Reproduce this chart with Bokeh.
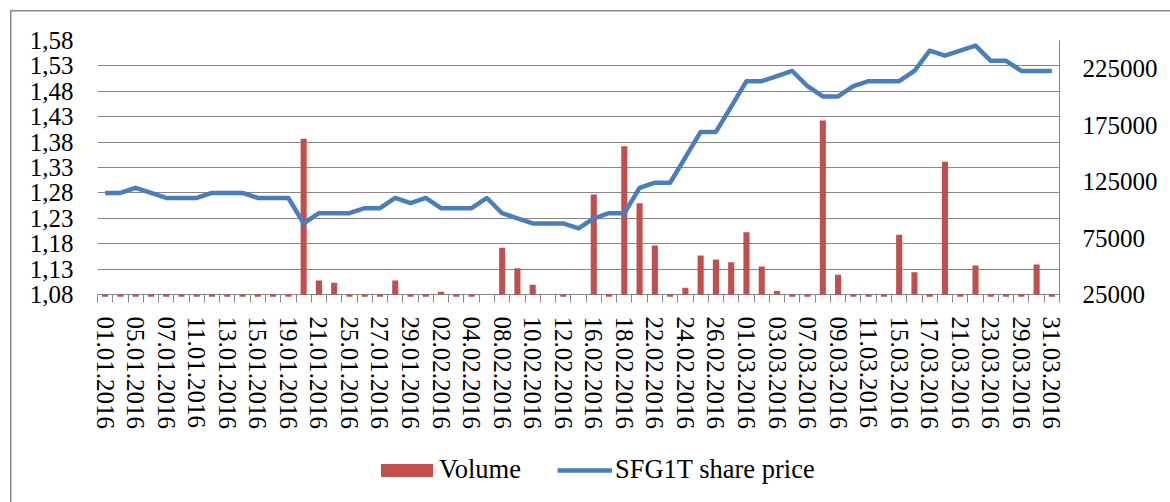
import numpy as np
from bokeh.plotting import figure
from bokeh.layouts import column
from bokeh.models import (Range1d, LinearAxis, FixedTicker, CustomJSTickFormatter,
                          Legend, LegendItem)
from bokeh.embed import file_html
from bokeh.resources import INLINE

dates = [
    "01.01.2016", "04.01.2016", "05.01.2016", "06.01.2016", "07.01.2016", "08.01.2016",
    "11.01.2016", "12.01.2016", "13.01.2016", "14.01.2016", "15.01.2016", "18.01.2016",
    "19.01.2016", "20.01.2016", "21.01.2016", "22.01.2016", "25.01.2016", "26.01.2016",
    "27.01.2016", "28.01.2016", "29.01.2016", "01.02.2016", "02.02.2016", "03.02.2016",
    "04.02.2016", "05.02.2016", "08.02.2016", "09.02.2016", "10.02.2016", "11.02.2016",
    "12.02.2016", "15.02.2016", "16.02.2016", "17.02.2016", "18.02.2016", "19.02.2016",
    "22.02.2016", "23.02.2016", "24.02.2016", "25.02.2016", "26.02.2016", "29.02.2016",
    "01.03.2016", "02.03.2016", "03.03.2016", "04.03.2016", "07.03.2016", "08.03.2016",
    "09.03.2016", "10.03.2016", "11.03.2016", "14.03.2016", "15.03.2016", "16.03.2016",
    "17.03.2016", "18.03.2016", "21.03.2016", "22.03.2016", "23.03.2016", "24.03.2016",
    "29.03.2016", "30.03.2016", "31.03.2016",
]

price = [
    1.28, 1.28, 1.29, 1.28, 1.27, 1.27, 1.27, 1.28, 1.28, 1.28, 1.27, 1.27, 1.27,
    1.22, 1.24, 1.24, 1.24, 1.25, 1.25, 1.27, 1.26, 1.27, 1.25, 1.25, 1.25, 1.27,
    1.24, 1.23, 1.22, 1.22, 1.22, 1.21, 1.23, 1.24, 1.24, 1.29, 1.30, 1.30, 1.35,
    1.40, 1.40, 1.45, 1.50, 1.50, 1.51, 1.52, 1.49, 1.47, 1.47, 1.49, 1.50, 1.50,
    1.50, 1.52, 1.56, 1.55, 1.56, 1.57, 1.54, 1.54, 1.52, 1.52, 1.52,
]

nan = float("nan")
volume = [
    23000, 23000, 23000, 23000, 23000, 23000, 23000, 23000, 23000, 23000, 23000, 23000, 23000,
    163000, 37400, 35400, 23000, 23000, 23000, 37400, 23000, 23000, 27500, 23000, 23000, nan,
    66400, 48300, 33600, nan, 23000, nan, 113600, 23000, 156400, 105900, 68400, 23000, 30900,
    59500, 56000, 53600, 80200, 49800, 28000, 23000, 23000, 179200, 42400, 23000, 23000, 23000,
    77900, 44800, 23000, 142500, 23000, 50700, 23000, 23000, 23000, 51600, 23000,
]

price_ticks = [1.08, 1.13, 1.18, 1.23, 1.28, 1.33, 1.38, 1.43, 1.48, 1.53, 1.58]
volume_ticks = [25000, 75000, 125000, 175000, 225000]

FONT = "Liberation Serif"
FS = "25px"
LFS = "26.5px"
GRID = "#868686"
RED = "#C0504D"
BLUE = "#4A7EBB"
EDGE = "#8a8a8a"

n = len(dates)
x = np.arange(n) + 0.5
vol = np.array(volume, dtype=float)

p = figure(width=1170, height=440, output_backend="svg", toolbar_location=None,
           x_range=Range1d(0, n), y_range=Range1d(1.08 - 3 * 0.5 / 254, 1.58),
           min_border_left=97, min_border_right=111, min_border_top=40,
           min_border_bottom=143)
p.extra_y_ranges = {"vol": Range1d(25000 - 3 * 225000 / 254, 250000)}
p.outline_line_color = None
p.background_fill_color = None
p.border_fill_color = None

# left axis
ya = p.yaxis[0]
ya.ticker = FixedTicker(ticks=price_ticks)
ya.formatter = CustomJSTickFormatter(code="return tick.toFixed(2).replace('.', ',');")
ya.axis_line_color = None
ya.major_tick_line_color = None
ya.minor_tick_line_color = None
ya.major_tick_out = 0
ya.major_tick_in = 0
ya.major_label_standoff = 24
ya.major_label_text_font = FONT
ya.major_label_text_font_size = FS
ya.major_label_text_color = "black"

p.ygrid.grid_line_color = GRID
p.ygrid.grid_line_width = 1
p.xgrid.visible = False

# x axis
xa = p.xaxis[0]
xa.ticker = FixedTicker(ticks=list(x[::2]), minor_ticks=list(range(n + 1)))
xa.formatter = CustomJSTickFormatter(args=dict(labels=dates),
                                     code="return labels[Math.floor(tick)];")
xa.major_label_orientation = "vertical"
xa.axis_line_color = None
xa.major_tick_line_color = None
xa.major_tick_in = 0
xa.major_tick_out = 0
xa.minor_tick_line_color = GRID
xa.minor_tick_in = 3
xa.minor_tick_out = 5
xa.major_label_standoff = 14
xa.major_label_text_font = FONT
xa.major_label_text_font_size = FS
xa.major_label_text_color = "black"

# right axis
ra = LinearAxis(y_range_name="vol", ticker=FixedTicker(ticks=volume_ticks),
                formatter=CustomJSTickFormatter(code="return tick.toFixed(0);"))
ra.axis_line_color = GRID
ra.major_tick_line_color = None
ra.minor_tick_line_color = None
ra.major_tick_out = 0
ra.major_tick_in = 0
ra.major_label_standoff = 23
ra.major_label_text_font = FONT
ra.major_label_text_font_size = FS
ra.major_label_text_color = "black"
p.add_layout(ra, "right")

p.vbar(x=x, bottom=25000, top=vol, width=0.4, fill_color=RED,
       line_color=None, y_range_name="vol")
p.line(x, price, line_color=BLUE, line_width=4.5, line_join="round")

# legend strip below the chart (its frame is aligned with the chart frame)
p2 = figure(width=1170, height=62, output_backend="svg", toolbar_location=None,
            x_range=Range1d(0, 1), y_range=Range1d(0, 1), min_border=0,
            x_axis_location=None, y_axis_location=None)
p2.outline_line_color = None
p2.background_fill_color = None
p2.border_fill_color = None
p2.grid.visible = False
k_bar = p2.vbar(x=[nan], top=[nan], width=0.4, fill_color=RED, line_color=None)
k_line = p2.line(x=[nan], y=[nan], line_color=BLUE, line_width=4.5)

common = dict(padding=0, margin=0, border_line_color=None, background_fill_alpha=0,
              label_text_font=FONT, label_text_font_size=LFS, label_text_color="black",
              orientation="horizontal")
leg1 = Legend(items=[LegendItem(label="Volume", renderers=[k_bar])],
              location=(277, 17), glyph_width=65, glyph_height=16,
              label_standoff=0, **common)
leg2 = Legend(items=[LegendItem(label="SFG1T share price", renderers=[k_line])],
              location=(460, 17), glyph_width=55, glyph_height=16,
              label_standoff=3, **common)
p2.add_layout(leg1, "center")
p2.add_layout(leg2, "center")

edge = (f"linear-gradient({EDGE},{EDGE}) 10px 10px / 1.5px 100% no-repeat, "
        f"linear-gradient({EDGE},{EDGE}) 10px 10px / 100% 1.5px no-repeat, white")
layout = column(p, p2, spacing=0, styles={"background": edge})

open("out.html", "w").write(file_html(layout, INLINE))
